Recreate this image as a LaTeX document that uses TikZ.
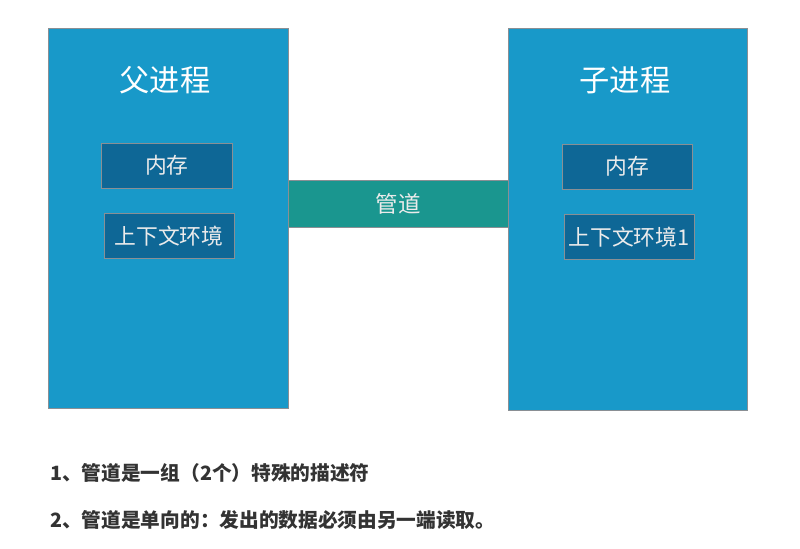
\documentclass[tikz,border=0pt]{standalone}
\usepackage{fontspec}
\setmainfont{Noto Sans CJK SC}
\usepackage{xcolor}
\usetikzlibrary{positioning}

\definecolor{procblue}{HTML}{1899C9}
\definecolor{innerblue}{HTML}{0E6796}
\definecolor{pipegreen}{HTML}{1A968F}
\definecolor{edgegray}{HTML}{8A8F94}
\definecolor{notegray}{HTML}{333333}

\tikzset{
  procbox/.style={draw=edgegray, fill=procblue, minimum width=6cm, minimum height=9.5cm, inner sep=0pt},
  innerbox/.style={draw=edgegray, fill=innerblue, text=white!92!black, font=\fontsize{15.5}{18}\selectfont,
                   minimum width=3.25cm, minimum height=1.13cm, inner sep=0pt},
  title/.style={text=white, font=\fontsize{21.5}{25}\selectfont},
  note/.style={text=notegray, font=\bfseries\fontsize{14}{17}\selectfont, anchor=west, inner sep=0pt}
}

\begin{document}
\begin{tikzpicture}
    \useasboundingbox[fill=white] (0,0) rectangle (20,-13.7);
    % Hai tiến trình
    \node[procbox] (parent) at (4.2,-5.45) {};
    \node[procbox, minimum width=5.975cm, minimum height=9.55cm] (child) at (15.69,-5.475) {};
    % Ống dẫn
    \node[draw=edgegray, fill=pipegreen, text=white!92!black, font=\fontsize{16}{19}\selectfont,
          minimum width=5.5cm, minimum height=1.175cm, inner sep=0pt] (pipe) at (9.95,-5.09) {管道};

    \node[title] (ptitle) at (4.125,-2.0) {父进程};
    \node[title] (ctitle) at (15.625,-2.0) {子进程};

    \node[innerbox, minimum width=3.275cm] (pmem) at (4.17,-4.14) {内存};
    \node[innerbox] (pctx) at (4.225,-5.9) {上下文环境};
    \node[innerbox] (cmem) at (15.675,-4.16) {内存};
    \node[innerbox] (cctx) at (15.725,-5.925) {上下文环境1};

    % Ghi chú
    \node[note] (note1) at (1.25,-11.825) {1、管道是一组（2个）特殊的描述符};
    \node[note] (note2) at (1.25,-13.0) {2、管道是单向的：发出的数据必须由另一端读取。};
\end{tikzpicture}
\end{document}
